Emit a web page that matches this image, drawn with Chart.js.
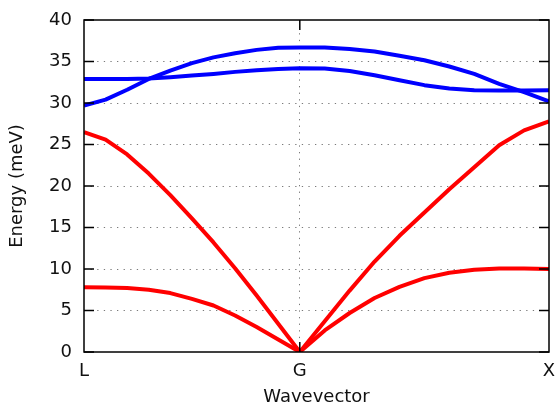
<!DOCTYPE html>
<html>
<head>
<meta charset="utf-8">
<script src="https://cdn.jsdelivr.net/npm/chart.js@4.4.1/dist/chart.umd.min.js"></script>
<style>
  html, body { margin: 0; padding: 0; background: #fff; }
  #wrap { width: 557px; height: 405px; }
</style>
</head>
<body>
<div id="wrap"><canvas id="c" width="557" height="405"></canvas></div>
<script>
// k-path positions (L -> G -> X), path-length units
const kpath = [0, 0.0866, 0.1732, 0.2598, 0.3464, 0.433, 0.5196, 0.6062, 0.6928, 0.7794, 0.866,
               0.966, 1.066, 1.166, 1.266, 1.366, 1.466, 1.566, 1.666, 1.766, 1.866];
const kTicks = [0, 0.866, 1.866];
const kLabels = ['L', 'G', 'X'];

// branch energies (meV)
const taBranch = [7.8, 7.78, 7.7, 7.5, 7.1, 6.4, 5.6, 4.4, 3.0, 1.5, 0,
                  2.6, 4.7, 6.5, 7.85, 8.9, 9.55, 9.9, 10.05, 10.05, 10.0];
const laBranch = [26.5, 25.6, 23.8, 21.5, 18.9, 16.1, 13.2, 10.1, 6.8, 3.4, 0,
                  3.7, 7.4, 10.9, 14.0, 16.8, 19.6, 22.25, 24.9, 26.7, 27.8];
const opt1Branch = [32.9, 32.9, 32.9, 32.95, 33.1, 33.3, 33.5, 33.75, 33.95, 34.1, 34.2,
                    34.15, 33.85, 33.35, 32.75, 32.15, 31.75, 31.55, 31.5, 31.5, 31.55];
const opt2Branch = [29.7, 30.4, 31.6, 32.9, 33.9, 34.8, 35.5, 36.0, 36.4, 36.65, 36.7,
                    36.7, 36.5, 36.2, 35.7, 35.15, 34.4, 33.5, 32.3, 31.3, 30.2];

const yMin = 0, yMax = 40, yStep = 5;

function pts(arr) { return kpath.map((x, i) => ({ x: x, y: arr[i] })); }

const FONT = { family: 'DejaVu Sans', size: 18, lineHeight: 1.0 };
const XTITLE_FONT = { family: 'DejaVu Sans', size: 18, lineHeight: 0.8 };

const frame = {
  id: 'frame',
  afterDatasetsDraw(chart) {
    const { ctx, chartArea: a, scales } = chart;
    ctx.save();
    ctx.strokeStyle = '#000';
    ctx.lineWidth = 1.5;
    ctx.beginPath();
    const tl = 10;
    for (let v = yMin; v <= yMax; v += yStep) {
      const y = scales.y.getPixelForValue(v);
      ctx.moveTo(a.left, y); ctx.lineTo(a.left + tl, y);
      ctx.moveTo(a.right, y); ctx.lineTo(a.right - tl, y);
    }
    const gx = scales.x.getPixelForValue(kTicks[1]);
    ctx.moveTo(gx, a.top); ctx.lineTo(gx, a.top + tl);
    ctx.moveTo(gx, a.bottom); ctx.lineTo(gx, a.bottom - tl);
    ctx.stroke();
    ctx.strokeRect(a.left, a.top, a.right - a.left, a.bottom - a.top);
    ctx.restore();
  }
};

new Chart(document.getElementById('c'), {
  type: 'line',
  data: {
    datasets: [
      { data: pts(taBranch), borderColor: '#ff0000' },
      { data: pts(laBranch), borderColor: '#ff0000' },
      { data: pts(opt1Branch), borderColor: '#0000ff' },
      { data: pts(opt2Branch), borderColor: '#0000ff' }
    ]
  },
  options: {
    responsive: false,
    animation: false,
    devicePixelRatio: 1,
    layout: { padding: { left: 0, right: 8, top: 20, bottom: 0 } },
    elements: {
      line: { borderWidth: 4, tension: 0, fill: false, borderCapStyle: 'butt', borderJoinStyle: 'round' },
      point: { radius: 0 }
    },
    plugins: { legend: { display: false }, tooltip: { enabled: false } },
    scales: {
      x: {
        type: 'linear',
        min: kTicks[0],
        max: kTicks[2],
        afterBuildTicks(scale) { scale.ticks = kTicks.map(v => ({ value: v })); },
        afterFit(scale) { scale.height = 53; scale.paddingLeft = 0; scale.paddingRight = 0; },
        border: { display: false, dash: [1.3, 5.3] },
        grid: {
          drawTicks: false,
          color: ctx => (ctx.tick && ctx.tick.value === kTicks[1]) ? '#7a7a7a' : 'rgba(0,0,0,0)',
          lineWidth: 1
        },
        ticks: {
          padding: 10,
          color: '#111',
          font: FONT,
          maxRotation: 0,
          autoSkip: false,
          callback: (v, i) => kLabels[i]
        },
        title: { display: true, text: 'Wavevector', color: '#111', font: XTITLE_FONT, padding: { top: 0, bottom: 0 } }
      },
      y: {
        min: yMin,
        max: yMax,
        afterFit(scale) { scale.width = 84; scale.paddingTop = 0; scale.paddingBottom = 0; },
        border: { display: false, dash: [1.3, 5.3] },
        grid: {
          drawTicks: false,
          color: ctx => (ctx.tick && (ctx.tick.value === yMin || ctx.tick.value === yMax)) ? 'rgba(0,0,0,0)' : '#7a7a7a',
          lineWidth: 1
        },
        ticks: { stepSize: yStep, padding: 12, color: '#111', font: FONT },
        title: { display: true, text: 'Energy (meV)', color: '#111', font: FONT, padding: { top: 8, bottom: 0 } }
      }
    }
  },
  plugins: [frame]
});
</script>
</body>
</html>
